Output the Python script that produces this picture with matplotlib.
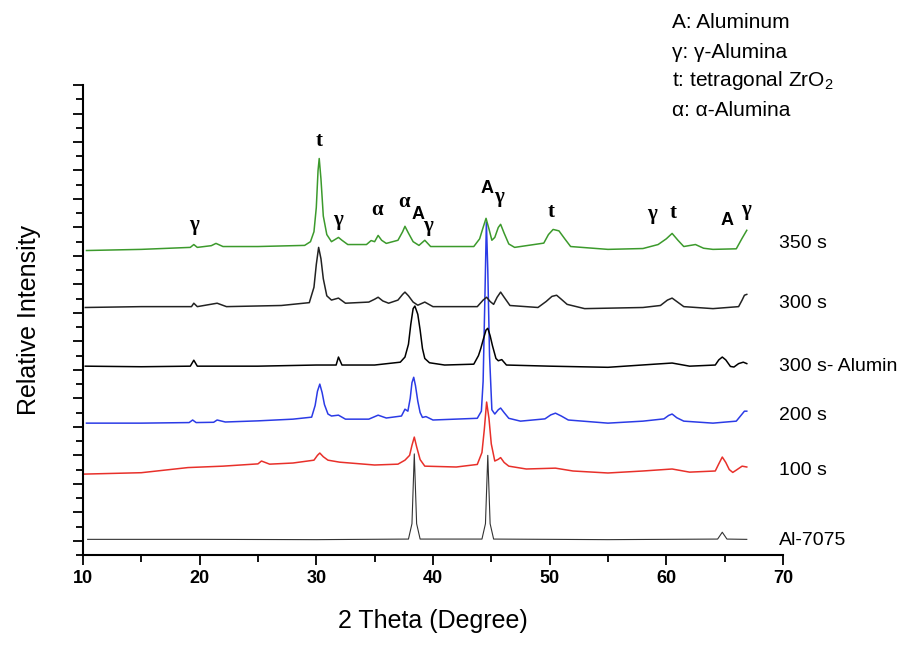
import matplotlib.pyplot as plt
from matplotlib.ticker import MultipleLocator, NullFormatter

plt.rcParams['font.family'] = ['Liberation Sans', 'DejaVu Sans']
plt.rcParams['mathtext.fontset'] = 'custom'
plt.rcParams['mathtext.rm'] = 'Liberation Sans'
plt.rcParams['mathtext.it'] = 'Liberation Sans:italic'

# --- XRD patterns (2theta, stacked intensity) ---
al7075_x = [10.4, 20, 30, 37.9, 38.2, 38.4, 38.6, 38.9, 44.2, 44.5, 44.7, 44.9, 45.2,
            55, 64.4, 64.8, 65.2, 66.9]
al7075_y = [0.05, 0.05, 0.04, 0.06, 0.6, 3.05, 0.6, 0.06, 0.06, 0.6, 3.0, 0.6, 0.06,
            0.04, 0.06, 0.3, 0.06, 0.05]

s100_x = [10.0, 15, 19, 22, 25, 25.3, 26, 28, 29.8, 30.1, 30.3, 30.6, 31.0, 32, 35, 37, 37.6,
          38.0, 38.2, 38.4, 38.6, 38.9, 39.3, 42, 43.8, 44.2, 44.4, 44.6, 44.8, 45.0, 45.3,
          45.6, 45.8, 46.1, 46.5, 48, 50.5, 52, 55, 58, 60.5, 62, 64.2, 64.5, 64.8, 65.1,
          65.4, 65.7, 66.0, 66.5, 66.9]
s100_y = [2.34, 2.39, 2.57, 2.62, 2.70, 2.80, 2.69, 2.73, 2.83, 3.0, 3.08, 2.95, 2.83, 2.76,
          2.66, 2.69, 2.83, 3.0, 3.35, 3.64, 3.3, 2.85, 2.62, 2.59, 2.68, 3.1, 3.9, 4.87, 4.3,
          3.4, 2.8, 2.86, 2.92, 2.75, 2.62, 2.52, 2.55, 2.45, 2.38, 2.45, 2.52, 2.41, 2.45,
          2.7, 2.94, 2.75, 2.5, 2.40, 2.48, 2.62, 2.59]

s200_x = [10.3, 15, 19.1, 19.4, 19.7, 21.2, 21.5, 22.2, 25, 28, 29.6, 29.9, 30.1, 30.3, 30.5,
          30.7, 31.0, 31.3, 31.9, 32.5, 34.5, 35.3, 36, 37.3, 37.6, 37.85, 38.05, 38.2, 38.35,
          38.5, 38.7, 38.9, 39.1, 39.4, 40, 43.8, 44.15, 44.3, 44.45, 44.58, 44.7, 44.85,
          45.05, 45.3, 45.6, 45.8, 46.1, 46.5, 47.5, 49.6, 50.1, 50.5, 51.0, 51.6, 55, 58,
          59.8, 60.2, 60.5, 60.9, 61.5, 64, 66.0, 66.4, 66.7, 66.9]
s200_y = [4.13, 4.13, 4.15, 4.24, 4.15, 4.16, 4.24, 4.17, 4.21, 4.27, 4.34, 4.75, 5.25, 5.50,
          5.20, 4.78, 4.45, 4.38, 4.41, 4.27, 4.27, 4.41, 4.31, 4.38, 4.62, 4.55, 5.0, 5.55,
          5.74, 5.45, 4.9, 4.5, 4.33, 4.36, 4.24, 4.30, 4.55, 5.6, 8.5, 11.18, 9.5, 6.5, 4.6,
          4.45, 4.6, 4.66, 4.5, 4.30, 4.20, 4.28, 4.42, 4.48, 4.38, 4.24, 4.13, 4.20, 4.28,
          4.40, 4.45, 4.32, 4.20, 4.13, 4.20, 4.40, 4.55, 4.55]

alumin_x = [10.2, 15, 19.2, 19.5, 19.8, 25, 30, 31.7, 31.9, 32.2, 35, 37.2, 37.6, 37.9, 38.1,
            38.3, 38.45, 38.7, 38.9, 39.1, 39.3, 39.7, 41, 43.5, 43.9, 44.1, 44.3, 44.55,
            44.7, 44.9, 45.1, 45.4, 45.6, 45.9, 46.3, 50, 55, 59, 60.5, 62, 64.2, 64.5, 64.8,
            65.1, 65.5, 65.8, 66.2, 66.6, 66.9]
alumin_y = [6.13, 6.11, 6.13, 6.34, 6.13, 6.13, 6.17, 6.17, 6.45, 6.17, 6.17, 6.27, 6.45, 6.9,
            7.6, 8.15, 8.24, 7.95, 7.4, 6.75, 6.40, 6.25, 6.17, 6.20, 6.50, 6.75, 7.05, 7.40,
            7.46, 7.2, 6.85, 6.40, 6.32, 6.36, 6.17, 6.13, 6.09, 6.20, 6.24, 6.13, 6.17, 6.35,
            6.45, 6.35, 6.12, 6.10, 6.22, 6.27, 6.22]

s300_x = [10.2, 15, 19.3, 19.5, 19.8, 21.5, 22.3, 27, 29.4, 29.8, 30.0, 30.2, 30.4, 30.6, 30.9,
          31.3, 31.9, 32.5, 34.5, 35.0, 35.3, 35.7, 36.2, 37.0, 37.4, 37.6, 37.9, 38.3, 38.7,
          39.3, 40, 43.8, 44.3, 44.6, 44.9, 45.2, 45.5, 45.8, 46.1, 46.6, 49, 49.7, 50.2,
          50.6, 51.0, 51.5, 53, 58, 59.5, 60.1, 60.5, 60.9, 61.5, 64, 66.2, 66.5, 66.7, 66.9]
s300_y = [8.19, 8.22, 8.22, 8.34, 8.22, 8.34, 8.22, 8.26, 8.36, 8.9, 9.7, 10.30, 9.9, 9.2, 8.6,
          8.45, 8.52, 8.34, 8.38, 8.48, 8.55, 8.42, 8.34, 8.45, 8.65, 8.73, 8.60, 8.38, 8.27,
          8.38, 8.22, 8.22, 8.45, 8.55, 8.40, 8.30, 8.55, 8.73, 8.55, 8.26, 8.19, 8.40, 8.58,
          8.62, 8.48, 8.30, 8.15, 8.19, 8.26, 8.45, 8.52, 8.40, 8.22, 8.15, 8.22, 8.45, 8.62,
          8.65]

s350_x = [10.3, 15, 19.2, 19.5, 19.8, 21.0, 21.4, 22.0, 25, 29.0, 29.5, 29.8, 30.0, 30.15,
          30.25, 30.4, 30.6, 30.9, 31.3, 31.7, 31.9, 32.2, 32.7, 34.3, 34.7, 35.0, 35.3, 35.6,
          36.0, 37.0, 37.4, 37.6, 37.9, 38.3, 38.8, 39.3, 39.8, 43.5, 44.0, 44.3, 44.55, 44.8,
          45.05, 45.3, 45.6, 45.8, 46.1, 46.5, 47, 49.5, 49.9, 50.3, 50.8, 51.3, 51.8, 55, 58,
          59.3, 60.0, 60.5, 61.0, 61.5, 62.5, 63.2, 64, 66.0, 66.5, 66.9]
s350_y = [10.19, 10.23, 10.30, 10.40, 10.30, 10.36, 10.44, 10.33, 10.33, 10.37, 10.50, 10.85,
          11.7, 13.0, 13.42, 12.7, 11.4, 10.75, 10.50, 10.60, 10.65, 10.55, 10.40, 10.40, 10.54,
          10.50, 10.72, 10.55, 10.44, 10.55, 10.85, 11.04, 10.80, 10.50, 10.37, 10.55, 10.33,
          10.33, 10.60, 11.0, 11.32, 10.95, 10.55, 10.65, 11.0, 11.11, 10.80, 10.42, 10.30,
          10.45, 10.75, 10.93, 10.88, 10.60, 10.33, 10.23, 10.26, 10.40, 10.60, 10.79, 10.55,
          10.33, 10.40, 10.27, 10.23, 10.25, 10.62, 10.90]

curve_names = ['Al-7075', '100 s', '200 s', '300 s- Alumin', '300 s', '350 s']
curve_label_y = [0.02, 2.48, 4.41, 6.13, 8.34, 10.44]

# peak assignments: (symbol, 2theta, height)
peak_marks = [('γ', 19.5, 11.1), ('t', 30.2, 14.05), ('γ', 31.85, 11.25), ('α', 35.2, 11.6),
              ('α', 37.5, 11.88), ('A', 38.7, 11.46), ('γ', 39.6, 11.04), ('A', 44.6, 12.37),
              ('γ', 45.7, 12.06), ('t', 50.1, 11.53), ('γ', 58.8, 11.46), ('t', 60.6, 11.5),
              ('A', 65.2, 11.25), ('γ', 66.8, 11.6)]

key_lines = ['A: Aluminum', 'γ: γ-Alumina', 't: tetragonal ZrO$_2$', 'α: α-Alumina']
key_rows = [23, 53, 80, 110]

fig = plt.figure(figsize=(8.99, 6.49), dpi=100)
ax = fig.add_axes([0.0923, 0.1448, 0.7786, 0.7242])

ax.plot(al7075_x, al7075_y, color='#333333', lw=0.8)
ax.plot(s100_x, s100_y, color='#e8302a', lw=1.1)
ax.plot(s200_x, s200_y, color='#2b3be6', lw=1.1)
ax.plot(alumin_x, alumin_y, color='black', lw=1.1)
ax.plot(s300_x, s300_y, color='#222222', lw=1.1)
ax.plot(s350_x, s350_y, color='#3c9a2c', lw=1.1)

for name, yl in zip(curve_names, curve_label_y):
    ax.text(69.7, yl, name, fontsize=14, ha='left', va='center', clip_on=False)

for sym, px, py in peak_marks:
    if sym == 'A':
        ax.text(px, py, sym, fontsize=13, fontweight='bold', ha='center', va='center')
    else:
        ax.text(px, py, sym, fontsize=15, fontweight='bold', family='Liberation Serif',
                ha='center', va='center')

for line, row in zip(key_lines, key_rows):
    fig.text(0.747, 1 - row / 649, line, fontsize=15, ha='left', va='center')

ax.set_xlim(10, 70)
ax.set_ylim(-0.5, 16)
ax.xaxis.set_major_locator(MultipleLocator(10))
ax.xaxis.set_minor_locator(MultipleLocator(5))
ax.yaxis.set_major_locator(MultipleLocator(1))
ax.yaxis.set_minor_locator(MultipleLocator(0.5))
ax.yaxis.set_major_formatter(NullFormatter())
ax.tick_params(which='major', length=7, width=1.3, direction='out')
ax.tick_params(which='minor', length=5, width=1.3, direction='out')
for lab in ax.get_xticklabels():
    lab.set_fontweight('bold')
    lab.set_fontsize(13)

for side in ['top', 'right']:
    ax.spines[side].set_visible(False)
for side in ['left', 'bottom']:
    ax.spines[side].set_linewidth(1.5)

ax.set_xlabel('2 Theta (Degree)', fontsize=18, labelpad=16)
ax.set_ylabel('Relative Intensity', fontsize=18, labelpad=20)

fig.savefig('out.png', dpi=100, facecolor='white')
